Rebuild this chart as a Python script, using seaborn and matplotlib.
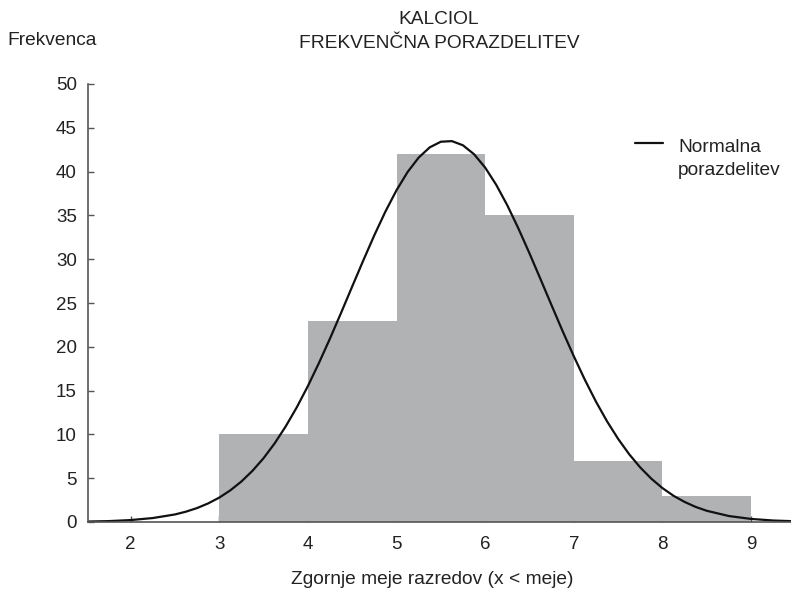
import seaborn as sns
import matplotlib.pyplot as plt
import pandas as pd

# class bounds and counts (histogram)
bin_left = [3, 4, 5, 6, 7, 8]
counts = [10, 23, 42, 35, 7, 3]

# normal curve, values
curve_x = [1.5, 1.75, 2.0, 2.25, 2.5, 2.625, 2.75, 2.875, 3.0, 3.125, 3.25, 3.375,
           3.5, 3.625, 3.75, 3.875, 4.0, 4.125, 4.25, 4.375, 4.5, 4.625, 4.75, 4.875,
           5.0, 5.125, 5.25, 5.375, 5.5, 5.625, 5.75, 5.875, 6.0, 6.125, 6.25, 6.375,
           6.5, 6.625, 6.75, 6.875, 7.0, 7.125, 7.25, 7.375, 7.5, 7.625, 7.75, 7.875,
           8.0, 8.125, 8.25, 8.375, 8.5, 8.75, 9.0, 9.25, 9.5]
curve_y = [0.05, 0.10, 0.22, 0.45, 0.86, 1.18, 1.59, 2.12, 2.78, 3.61, 4.62, 5.84,
           7.28, 8.97, 10.91, 13.09, 15.51, 18.15, 20.95, 23.88, 26.88, 29.85, 32.74, 35.44,
           37.87, 39.95, 41.6, 42.77, 43.41, 43.48, 43.0, 41.98, 40.46, 38.49, 36.15, 33.51,
           30.67, 27.71, 24.72, 21.76, 18.92, 16.23, 13.74, 11.49, 9.49, 7.73, 6.22, 4.94,
           3.87, 2.99, 2.29, 1.72, 1.28, 0.68, 0.35, 0.17, 0.08]

x_ticks = [2, 3, 4, 5, 6, 7, 8, 9]
y_ticks = [0, 5, 10, 15, 20, 25, 30, 35, 40, 45, 50]

sns.set_theme(style='white')
plt.rcParams['font.family'] = ['Liberation Sans', 'DejaVu Sans']

fig = plt.figure(figsize=(7.91, 5.93), dpi=100)
ax = fig.add_axes([88 / 791, 71 / 593, 703 / 791, 438 / 593])

hist = pd.DataFrame({'left': bin_left, 'count': counts})
sns.histplot(data=hist, x='left', weights='count', bins=bin_left + [9],
             color='#b1b2b4', alpha=1, edgecolor='none', linewidth=0, ax=ax)

sns.lineplot(x=curve_x, y=curve_y, color='#111111', linewidth=1.6, ax=ax)

ax.set_xlim(1.52, 9.45)
ax.set_ylim(0, 50)
ax.set_xticks(x_ticks)
ax.set_yticks(y_ticks)
ax.tick_params(axis='both', direction='in', length=4, width=1, color='#555555',
               labelsize=13.5, labelcolor='#222222')
ax.tick_params(axis='x', pad=10)
ax.tick_params(axis='y', pad=8)
ax.tick_params(bottom=True, left=True)
for side in ['top', 'right']:
    ax.spines[side].set_visible(False)
for side in ['left', 'bottom']:
    ax.spines[side].set_color('#555555')
    ax.spines[side].set_linewidth(1.2)
ax.set_xlabel('')
ax.set_ylabel('')

txt = dict(fontsize=13.8, color='#222222')
fig.text(439 / 791, 1 - 19 / 593, 'KALCIOL', ha='center', va='center', **txt)
fig.text(439 / 791, 1 - 43.5 / 593, 'FREKVENČNA PORAZDELITEV', ha='center', va='center', **txt)
fig.text(7 / 791, 1 - 45 / 593, 'Frekvenca', ha='left', va='baseline', **txt)
fig.text(432 / 791, 1 - 580 / 593, 'Zgornje meje razredov (x < meje)', ha='center', va='center', **txt)

# legend
fig.lines.append(plt.Line2D([635 / 791, 663 / 791], [1 - 142.5 / 593, 1 - 142.5 / 593],
                            transform=fig.transFigure, color='#111111', linewidth=1.6))
fig.text(678 / 791, 1 - 152 / 593, 'Normalna', ha='left', va='baseline', **txt)
fig.text(678 / 791, 1 - 175 / 593, 'porazdelitev', ha='left', va='baseline', **txt)

plt.savefig('out.png', dpi=100)
